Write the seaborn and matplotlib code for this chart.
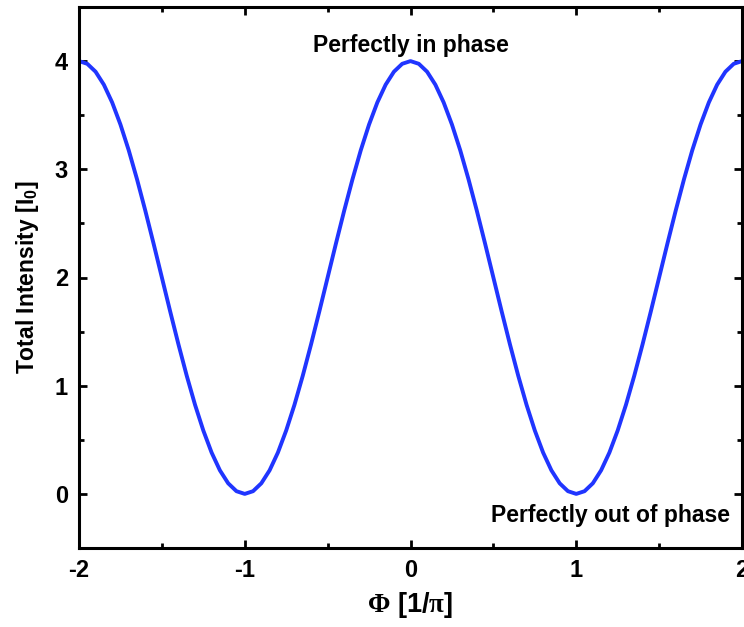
import numpy as np
import matplotlib
matplotlib.use("Agg")
import matplotlib.pyplot as plt
import seaborn as sns
from matplotlib.ticker import MultipleLocator

# Data (Phi in units of pi, intensity in I0)
phi = np.round(np.linspace(-2.0, 2.0, 81), 2)
intensity = [
    4.000, 3.975, 3.902, 3.782, 3.618, 3.414, 3.176, 2.908, 2.618, 2.313,
    2.000, 1.687, 1.382, 1.092, 0.824, 0.586, 0.382, 0.218, 0.098, 0.025,
    0.000, 0.025, 0.098, 0.218, 0.382, 0.586, 0.824, 1.092, 1.382, 1.687,
    2.000, 2.313, 2.618, 2.908, 3.176, 3.414, 3.618, 3.782, 3.902, 3.975,
    4.000, 3.975, 3.902, 3.782, 3.618, 3.414, 3.176, 2.908, 2.618, 2.313,
    2.000, 1.687, 1.382, 1.092, 0.824, 0.586, 0.382, 0.218, 0.098, 0.025,
    0.000, 0.025, 0.098, 0.218, 0.382, 0.586, 0.824, 1.092, 1.382, 1.687,
    2.000, 2.313, 2.618, 2.908, 3.176, 3.414, 3.618, 3.782, 3.902, 3.975,
    4.000,
]
x_ticks = [-2, -1, 0, 1, 2]
y_ticks = [0, 1, 2, 3, 4]
label_in = "Perfectly in phase"
label_out = "Perfectly out of phase"

sns.set_style("white")
plt.rcParams["font.family"] = ["Liberation Sans", "DejaVu Sans"]
plt.rcParams["font.weight"] = "bold"
plt.rcParams["text.color"] = "black"
plt.rcParams["axes.labelcolor"] = "black"
plt.rcParams["xtick.color"] = "black"
plt.rcParams["ytick.color"] = "black"
plt.rcParams["mathtext.fontset"] = "custom"
plt.rcParams["mathtext.rm"] = "Liberation Serif"
plt.rcParams["mathtext.bf"] = "Liberation Sans:bold"
plt.rcParams["mathtext.default"] = "regular"

fig = plt.figure(figsize=(7.44, 6.27), dpi=100)
ax = fig.add_axes([79 / 744, 79 / 627, 663 / 744, 541 / 627])

sns.lineplot(x=phi, y=intensity, ax=ax, color="#2035ff", linewidth=2.8)

ax.set_xlim(-2, 2)
ax.set_ylim(-0.5, 4.5)
ax.set_xticks(x_ticks)
ax.set_yticks(y_ticks)
ax.set_xticklabels([str(t) for t in x_ticks])
ax.set_yticklabels([str(t) for t in y_ticks])
ax.xaxis.set_minor_locator(MultipleLocator(0.5))
ax.yaxis.set_minor_locator(MultipleLocator(0.5))

for s in ax.spines.values():
    s.set_visible(True)
    s.set_linewidth(2.2)
    s.set_color("black")

ax.tick_params(which="both", direction="in", top=True, right=True,
               bottom=True, left=True, width=2.0, color="black")
ax.tick_params(which="major", length=6)
ax.tick_params(which="minor", length=3.5)
ax.tick_params(axis="x", which="major", labelsize=17, pad=8)
ax.tick_params(axis="y", which="major", labelsize=17, pad=8)
for lab in ax.get_xticklabels() + ax.get_yticklabels():
    lab.set_fontweight("bold")

ax.set_xlabel(r"$\mathrm{\Phi}$ [1/$\mathrm{\pi}$]", fontsize=19.5,
              fontweight="bold", labelpad=6)
ax.set_ylabel(r"Total Intensity [I$_0$]", fontsize=16.5,
              fontweight="bold", labelpad=10)

ax.text(0, 4.14, label_in, ha="center", va="center", fontsize=16.5,
        fontweight="bold")
ax.text(1.93, -0.2, label_out, ha="right", va="center", fontsize=16.5,
        fontweight="bold")

fig.savefig("out.png", dpi=100)
